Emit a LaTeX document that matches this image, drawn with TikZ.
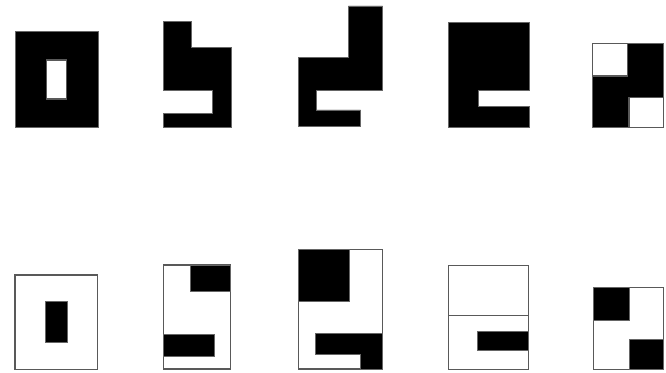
\documentclass[tikz,border=0pt]{standalone}
\begin{document}
\begin{tikzpicture}[x=0.75pt,y=-0.75pt,
  blk/.style={fill=black,draw=black!60,line width=0.6pt},
  wht/.style={fill=white,draw=black!65,line width=0.8pt},
  outl/.style={draw=black!65,line width=0.8pt}]
\useasboundingbox (0,0) rectangle (666,373);
% top row
\draw[blk] (15,31.7) rectangle (98.3,127.3);
\draw[wht] (46.7,60) rectangle (66.7,99);
\draw[blk] (163.3,21.7) -- (191.7,21.7) -- (191.7,47.7) -- (231,47.7) -- (231,127.3) -- (163.3,127.3) -- (163.3,113.3) -- (212.7,113.3) -- (212.7,90.7) -- (163.3,90.7) -- cycle;
\draw[blk] (348.3,6) -- (382.7,6) -- (382.7,90.7) -- (316,90.7) -- (316,110) -- (360.7,110) -- (360.7,126.7) -- (298.3,126.7) -- (298.3,57.3) -- (348.3,57.3) -- cycle;
\draw[blk] (448.3,22.7) -- (529,22.7) -- (529,90) -- (478.3,90) -- (478.3,106.7) -- (529,106.7) -- (529,127.3) -- (448.3,127.3) -- cycle;
\draw[blk] (592.5,43.5) rectangle (663.3,127.3);
\draw[wht] (592.5,43.5) rectangle (627.7,76);
\draw[wht] (629,97.3) rectangle (663.3,127.3);
% bottom row
\draw[outl] (15,275) rectangle (97.7,369.3);
\draw[blk] (45.7,301.7) rectangle (67.7,342.7);
\draw[outl] (163.3,265) rectangle (230.7,369);
\draw[blk] (190.7,265) rectangle (230.7,291);
\draw[blk] (163.3,334) rectangle (214,356.7);
\draw[outl] (298.5,249.3) rectangle (382.3,369);
\draw[blk] (298.5,249.3) rectangle (349.3,301.7);
\draw[blk] (315.7,333.3) -- (382.3,333.3) -- (382.3,369) -- (360,369) -- (360,354.3) -- (315.7,354.3) -- cycle;
\draw[outl] (448.3,265.7) rectangle (528.3,369.3);
\draw[outl] (448.3,315.3) -- (528.3,315.3);
\draw[blk] (477.3,331.7) rectangle (528.3,350);
\draw[outl] (593.3,287.3) rectangle (663.3,369.3);
\draw[blk] (593.3,287.3) rectangle (629,320);
\draw[blk] (629,339) rectangle (663.3,369.3);
\end{tikzpicture}
\end{document}
